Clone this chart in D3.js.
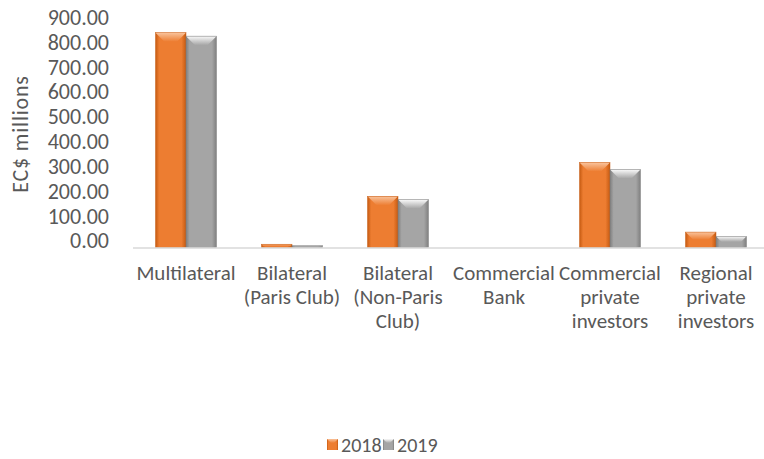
<!DOCTYPE html>
<html>
<head>
<meta charset="utf-8">
<script src="https://cdn.jsdelivr.net/npm/d3@7"></script>
<style>
  html, body { margin: 0; padding: 0; background: #fff; }
  svg text { font-family: Carlito, Calibri, Lato, "Open Sans", sans-serif; fill: #595959; }
</style>
</head>
<body>
<div id="viz"></div>
<script>
// chart data
var categories = [
  ["Multilateral"],
  ["Bilateral", "(Paris Club)"],
  ["Bilateral", "(Non-Paris", "Club)"],
  ["Commercial", "Bank"],
  ["Commercial", "private", "investors"],
  ["Regional", "private", "investors"]
];
var seriesNames = ["2018", "2019"];
var values2018 = [865, 13, 206, 0, 342, 62];
var values2019 = [851, 8, 193, 0, 314, 45];
var yTicks = [0, 100, 200, 300, 400, 500, 600, 700, 800, 900];

var width = 764, height = 459;
var colors = { "2018": "#ED7D31", "2019": "#A5A5A5" };
var darker = { "2018": "#C55A11", "2019": "#7F7F7F" };
var lighter = { "2018": "#F9C39C", "2019": "#FAFAFA" };

var svg = d3.select("#viz").append("svg")
  .attr("width", width)
  .attr("height", height);

var defs = svg.append("defs");
seriesNames.forEach(function(s) {
  var g = defs.append("linearGradient").attr("id", "body" + s)
    .attr("x1", 0).attr("x2", 1).attr("y1", 0).attr("y2", 0);
  g.append("stop").attr("offset", "0%").attr("stop-color", darker[s]);
  g.append("stop").attr("offset", "12%").attr("stop-color", colors[s]);
  g.append("stop").attr("offset", "85%").attr("stop-color", colors[s]);
  g.append("stop").attr("offset", "100%").attr("stop-color", darker[s]);
  var t = defs.append("linearGradient").attr("id", "top" + s)
    .attr("x1", 0).attr("x2", 0).attr("y1", 0).attr("y2", 1);
  t.append("stop").attr("offset", "0%").attr("stop-color", lighter[s]);
  t.append("stop").attr("offset", "100%").attr("stop-color", colors[s]);
});

var x = d3.scaleBand()
  .domain(d3.range(categories.length))
  .range([133, 133 + 6 * 106])
  .paddingInner(0)
  .paddingOuter(0);

var y = d3.scaleLinear()
  .domain([0, 900])
  .range([247.5, 24]);

var barW = 30.5;
var xs = d3.scaleBand().domain(seriesNames).range([-barW, barW]);

// y axis labels
var yAxis = svg.append("g")
  .attr("transform", "translate(109,0)")
  .call(d3.axisLeft(y).tickValues(yTicks).tickSize(0).tickPadding(0)
    .tickFormat(d3.format(".2f")));
yAxis.select(".domain").remove();
yAxis.selectAll("text")
  .attr("dy", "0.02em")
  .style("font-size", "22px")
  .style("fill", "#595959")
  .attr("font-family", null);

svg.append("text")
  .attr("transform", "translate(20,134) rotate(-90)")
  .attr("text-anchor", "middle")
  .attr("dy", "0.35em")
  .style("font-size", "22px")
  .style("letter-spacing", "0.8px")
  .text("EC$ millions");

// bars
var data = [];
categories.forEach(function(c, i) {
  data.push({ i: i, s: "2018", v: values2018[i] });
  data.push({ i: i, s: "2019", v: values2019[i] });
});

var bars = svg.append("g").selectAll("g.bar")
  .data(data.filter(function(d) { return d.v > 0; }))
  .enter().append("g").attr("class", "bar");

bars.each(function(d) {
  var g = d3.select(this);
  var x0 = x(d.i) + x.bandwidth() / 2 + xs(d.s);
  var y0 = y(d.v), y1 = y(0);
  var h = y1 - y0;
  var b = Math.min(9, h / 2);
  g.append("rect")
    .attr("x", x0).attr("y", y0)
    .attr("width", barW).attr("height", h)
    .attr("fill", "url(#body" + d.s + ")");
  // top bevel
  g.append("path")
    .attr("d", "M" + x0 + "," + y0 + "L" + (x0 + barW) + "," + y0 +
      "L" + (x0 + barW - b) + "," + (y0 + b) + "L" + (x0 + b) + "," + (y0 + b) + "Z")
    .attr("fill", "url(#top" + d.s + ")");
  g.append("rect")
    .attr("x", x0).attr("y", y0)
    .attr("width", barW).attr("height", h)
    .attr("fill", "none")
    .attr("stroke", darker[d.s])
    .attr("stroke-width", 0.6)
    .attr("stroke-opacity", 0.8);
});

// category axis line
svg.append("line")
  .attr("x1", x.range()[0]).attr("x2", x.range()[1])
  .attr("y1", y(0) + 0.5).attr("y2", y(0) + 0.5)
  .attr("stroke", "#D9D9D9")
  .attr("stroke-width", 1.5);

// category labels
var cat = svg.append("g").selectAll("text")
  .data(categories)
  .enter().append("text")
  .attr("text-anchor", "middle")
  .attr("x", function(d, i) { return x(i) + x.bandwidth() / 2; })
  .attr("y", 280)
  .style("font-size", "21px");
cat.selectAll("tspan")
  .data(function(d) { return d; })
  .enter().append("tspan")
  .attr("x", function() { return d3.select(this.parentNode).attr("x"); })
  .attr("dy", function(d, j) { return j === 0 ? 0 : 24; })
  .text(function(d) { return d; });

// legend
var legend = svg.append("g").attr("transform", "translate(327,439)");
var li = legend.selectAll("g")
  .data(seriesNames)
  .enter().append("g")
  .attr("transform", function(d, i) { return "translate(" + (i * 56) + ",0)"; });
li.append("rect")
  .attr("width", 11).attr("height", 11)
  .attr("fill", function(d) { return "url(#body" + d + ")"; });
li.append("path")
  .attr("d", "M0,0L11,0L7,4L4,4Z")
  .attr("fill", function(d) { return "url(#top" + d + ")"; });
li.append("text")
  .attr("x", 14).attr("y", 5.5)
  .attr("dy", "0.35em")
  .style("font-size", "20px")
  .text(function(d) { return d; });
</script>
</body>
</html>
